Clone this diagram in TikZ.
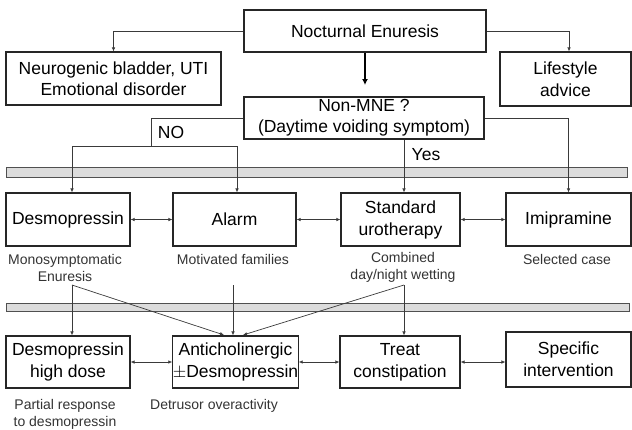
\documentclass[tikz,border=0pt]{standalone}
\usepackage{fontspec}
\setmainfont{Liberation Sans}
\usetikzlibrary{arrows.meta}
\definecolor{ln}{HTML}{3A3A3A}
\definecolor{barfill}{HTML}{DCDCDC}
\definecolor{bardraw}{HTML}{505050}
\definecolor{lbl}{HTML}{333333}
\tikzset{
  box/.style={draw=black!85, line width=1.1pt, align=center, inner sep=0pt,
    font=\fontsize{17.5}{22}\selectfont},
  graybar/.style={draw=bardraw, fill=barfill, line width=0.8pt, inner sep=0pt},
  lab/.style={align=center, inner sep=0pt, text=lbl, font=\fontsize{14}{17}\selectfont},
  big/.style={inner sep=0pt, font=\fontsize{17.5}{21}\selectfont},
  conn/.style={draw=ln, line width=0.7pt},
  arr/.style={conn, -{Latex[length=4pt,width=3.5pt]}},
  darr/.style={conn, {Latex[length=4pt,width=3.5pt]}-{Latex[length=4pt,width=3.5pt]}},
}
\begin{document}
\begin{tikzpicture}[x=1pt,y=-1pt]
\useasboundingbox (0,0) rectangle (632,429);
% gray bars
\node[graybar, minimum width=621, minimum height=10] (bar1) at (316.5,172) {};
\node[graybar, minimum width=623, minimum height=8] (bar2) at (317.5,307) {};
% top boxes
\node[box, minimum width=242, minimum height=42] (ne) at (365,31) {Nocturnal Enuresis};
\node[box, minimum width=215, minimum height=53, font=\fontsize{17.5}{21}\selectfont] (neuro) at (113.5,78.5) {Neurogenic bladder, UTI\\Emotional disorder};
\node[box, minimum width=131, minimum height=54] (life) at (565.5,79) {Lifestyle\\advice};
\node[box, minimum width=240, minimum height=42, font=\fontsize{17.5}{21}\selectfont] (nonmne) at (364,118) {Non-MNE ?\\(Daytime voiding symptom)};
% row 1
\node[box, minimum width=124, minimum height=53] (desmo) at (68,219.5) {Desmopressin};
\node[box, minimum width=123, minimum height=53] (alarm) at (234.5,219.5) {Alarm};
\node[box, minimum width=119, minimum height=53] (uro) at (400.5,219.5) {Standard\\urotherapy};
\node[box, minimum width=125, minimum height=53] (imi) at (568.5,219.5) {Imipramine};
% row 1 labels
\node[lab] (l1) at (65,267.5) {Monosymptomatic\\Enuresis};
\node[lab] (l2) at (233,259) {Motivated families};
\node[lab] (l3) at (403,267.5) {Combined\\day/night wetting};
\node[lab] (l4) at (567,259) {Selected case};
% row 2
\node[box, minimum width=124, minimum height=52] (dhd) at (68,362) {Desmopressin\\high dose};
\node[box, minimum width=125, minimum height=52] (anti) at (235.5,362) {Anticholinergic\\$\pm$Desmopressin};
\node[box, minimum width=120, minimum height=52] (treat) at (400,362) {Treat\\constipation};
\node[box, minimum width=125, minimum height=55] (spec) at (568.5,359.5) {Specific\\intervention};
% row 2 labels
\node[lab] (l5) at (65,414.5) {Partial response\\to desmopressin};
\node[lab] (l6) at (214,406) {Detrusor overactivity};
% NO / Yes
\node[big] (no) at (171,132) {NO};
\node[big] (yes) at (426,155) {Yes};
% coordinates
\coordinate (rx) at (569,0);
\coordinate (noA) at (151,146);
\coordinate (splitL) at (72,146);
\coordinate (splitR) at (237,146);
\coordinate (yx) at (404,0);
\coordinate (thk) at (365,85);
\coordinate (bl) at (72,285);
\coordinate (bm) at (233,285);
\coordinate (br) at (404,285);
\coordinate (ta) at (224,335);
\coordinate (tc) at (243,335);
% top connectors
\draw[arr] (ne.west) -| (neuro.north);
\draw[arr] (ne.east) -| (life.north -| rx);
\draw[draw=black, line width=1.8pt, -{Latex[length=6pt,width=6pt]}] (ne.south) -- (thk);
% from Non-MNE
\draw[conn] (nonmne.west) -| (noA);
\draw[conn] (splitL) -- (splitR);
\draw[arr] (splitL) -- (splitL |- desmo.north);
\draw[arr] (splitR) -- (splitR |- alarm.north);
\draw[arr] (nonmne.south -| yx) -- (uro.north -| yx);
\draw[arr] (nonmne.east) -| (imi.north);
% row 1 double arrows
\draw[darr] (desmo.east) -- (alarm.west);
\draw[darr] (alarm.east) -- (uro.west);
\draw[darr] (uro.east) -- (imi.west);
% to row 2
\draw[arr] (bl) -- (bl |- dhd.north);
\draw[arr] (bl) -- (ta);
\draw[arr] (bm) -- (bm |- anti.north);
\draw[arr] (br) -- (br |- treat.north);
\draw[arr] (br) -- (tc);
% row 2 double arrows
\draw[darr] (dhd.east) -- (anti.west);
\draw[darr] (anti.east) -- (treat.west);
\draw[darr] (treat.east) -- (spec.west |- treat.east);
\end{tikzpicture}
\end{document}
